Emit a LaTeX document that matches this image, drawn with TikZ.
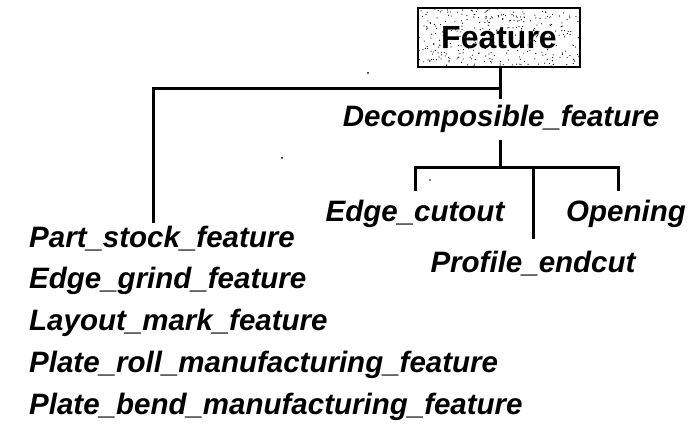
\documentclass[tikz,border=0pt]{standalone}
\usepackage{fontspec}
\setmainfont{Liberation Sans}
\usetikzlibrary{backgrounds}
\begin{document}
\begin{tikzpicture}[x=1pt,y=-1pt,
  lbl/.style={font=\fontsize{29.5}{32}\selectfont\bfseries\itshape, inner sep=0pt},
  rootbox/.style={draw, line width=2pt, minimum width=162pt, minimum height=59pt,
    inner sep=0pt, font=\fontsize{32}{34}\selectfont\bfseries},
  wire/.style={line width=3pt, line cap=rect},
  speck/.style={fill=black}]
\useasboundingbox (0,0) rectangle (689,430);

% root class with its stippled fill
\node[rootbox] (feat) at (499,37.5) {Feature};
\begin{scope}[on background layer]
  \clip (feat.south west) rectangle (feat.north east);
  \pgfmathsetseed{7}
  \foreach \i in {1,...,340}{
    \pgfmathsetmacro\px{418+rnd*162}
    \pgfmathsetmacro\py{8+rnd*59}
    \fill[speck] (\px,\py) circle (0.6pt);
  }
\end{scope}

% subclasses
\node[lbl, anchor=base] (dec) at (501,127) {Decomposible\_feature};
\node[lbl, anchor=base] (cut) at (415,222) {Edge\_cutout};
\node[lbl, anchor=base] (open) at (626,222) {Opening};
\node[lbl, anchor=base] (prof) at (533,273) {Profile\_endcut};

\node[lbl, anchor=base west] (part) at (29,248) {Part\_stock\_feature};
\node[lbl, anchor=base west] (grind) at (29,289) {Edge\_grind\_feature};
\node[lbl, anchor=base west] (mark) at (29,331) {Layout\_mark\_feature};
\node[lbl, anchor=base west] (roll) at (29,373) {Plate\_roll\_manufacturing\_feature};
\node[lbl, anchor=base west] (bend) at (29,415) {Plate\_bend\_manufacturing\_feature};

% tree connectors
\coordinate (rootjoin) at (500,89);
\coordinate (dectop) at (500,98);
\coordinate (leftcorner) at (153,89);
\coordinate (leftend) at (153,222);
\draw[wire] (feat.south -| dectop) -- (dectop);
\draw[wire] (rootjoin) -- (leftcorner) -- (leftend);

\coordinate (decbot) at (500,142);
\coordinate (subjoin) at (500,168);
\coordinate (cutcorner) at (415,168);
\coordinate (opencorner) at (618,168);
\coordinate (profjoin) at (533,168);
\draw[wire] (decbot) -- (subjoin);
\draw[wire] (cutcorner |- 0,190) -- (cutcorner) -- (opencorner) -- (opencorner |- 0,190);
\draw[wire] (profjoin) -- (533,238);

% scanner specks
\fill[speck] (368,73) circle (1pt);
\fill[speck] (282,158) circle (1pt);
\fill[speck] (430,180) circle (0.8pt);
\end{tikzpicture}
\end{document}
